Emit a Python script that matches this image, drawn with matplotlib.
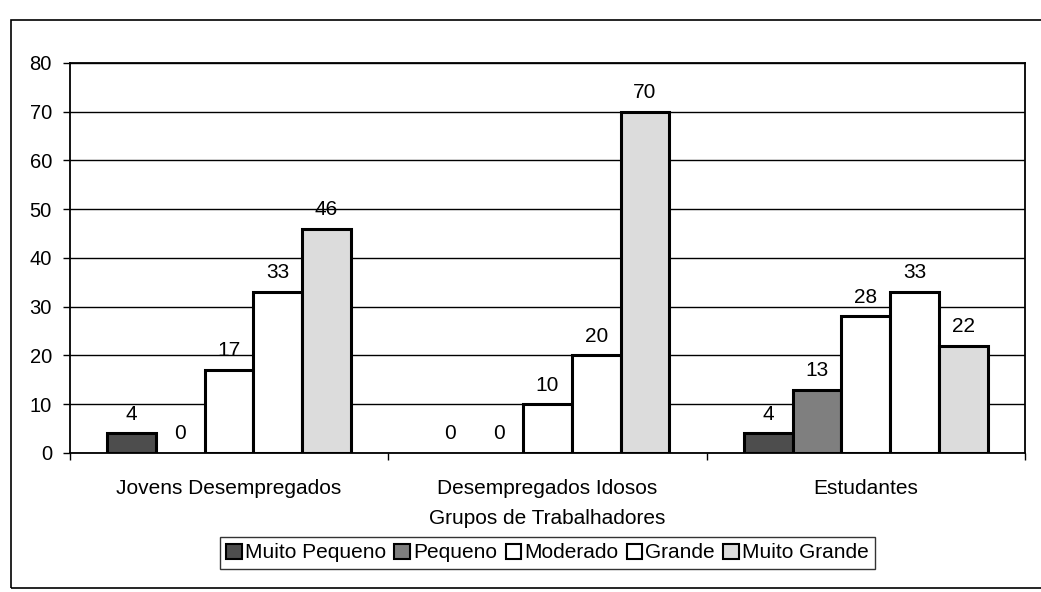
import numpy as np
import matplotlib
matplotlib.use("Agg")
import matplotlib.pyplot as plt
from matplotlib.patches import Rectangle

plt.rcParams['font.family'] = ['Liberation Sans', 'DejaVu Sans']

# data
grupos = ["Jovens Desempregados", "Desempregados Idosos", "Estudantes"]
series = ["Muito Pequeno", "Pequeno", "Moderado", "Grande", "Muito Grande"]
muito_pequeno = [4, 0, 4]
pequeno = [0, 0, 13]
moderado = [17, 10, 28]
grande = [33, 20, 33]
muito_grande = [46, 70, 22]
valores = [muito_pequeno, pequeno, moderado, grande, muito_grande]
cores = ["#4d4d4d", "#7f7f7f", "white", "white", "#dcdcdc"]

fig = plt.figure(figsize=(10.41, 5.92), dpi=100)
ax = fig.add_axes([0.0672, 0.2348, 0.9174, 0.6588])

x = np.arange(len(grupos))
w = 0.153
for i, (nome, vals, cor) in enumerate(zip(series, valores, cores)):
    larg = [2.2 if v > 0 else 0 for v in vals]  # no outline for empty bars
    bars = ax.bar(x + (i - 2) * w, vals, w, color=cor, edgecolor="black",
                  linewidth=larg, label=nome, zorder=3)
    for b, v in zip(bars, vals):
        ax.annotate(str(v), (b.get_x() + b.get_width() / 2, v),
                    xytext=(0, 7), textcoords="offset points",
                    ha="center", va="bottom", fontsize=15)

ax.set_xlim(-0.5, 2.5)
ax.set_ylim(0, 80)
ax.set_yticks(range(0, 81, 10))
ax.yaxis.grid(True, color="black", linewidth=1)
ax.set_axisbelow(True)
ax.tick_params(axis="y", labelsize=14.5, length=5, pad=8, width=1)

# ticks between the groups, labels at the centres
ax.set_xticks([-0.5, 0.5, 1.5, 2.5])
ax.set_xticklabels([])
ax.tick_params(axis="x", which="major", length=5, width=1)
ax.set_xticks(x, minor=True)
ax.set_xticklabels(grupos, minor=True, fontsize=15)
ax.tick_params(axis="x", which="minor", length=0, pad=19)

for s in ax.spines.values():
    s.set_color("black")
    s.set_linewidth(1.3)

fig.text(0.526, 0.125, "Grupos de Trabalhadores", ha="center", va="center", fontsize=15)

leg = fig.legend(loc="center", bbox_to_anchor=(0.526, 0.066), ncol=5, fontsize=15,
                 frameon=True, fancybox=False, edgecolor="black",
                 handlelength=0.75, handleheight=0.75, handletextpad=0.15,
                 columnspacing=0.4, borderpad=0.3, borderaxespad=0)
leg.get_frame().set_linewidth(1)
for h in leg.legend_handles:
    h.set_linewidth(1.5)

# outer chart border
fig.patches.append(Rectangle((0.011, 0.007), 1.2, 0.959, transform=fig.transFigure,
                             fill=False, edgecolor="black", linewidth=1.2))

fig.savefig("out.png", dpi=100)
